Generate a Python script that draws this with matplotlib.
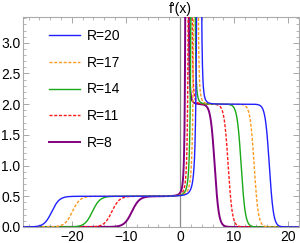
import numpy as np
import matplotlib
matplotlib.use("Agg")
import matplotlib.pyplot as plt
from matplotlib.ticker import MultipleLocator

plt.rcParams['font.family'] = ['Liberation Sans', 'DejaVu Sans']

# Curve parameters
labels = ["R=20", "R=17", "R=14", "R=11", "R=8"]
left_center = [-23.7, -19.9, -16.2, -12.6, -8.9]     # rise 0 -> 0.5
right_center = [16.5, 13.7, 11.3, 8.9, 6.4]          # drop 2 -> 0
pole = [3.6, 3.0, 2.45, 1.9, 1.3]                    # spike position
left_amp = [0.5, 0.38, 0.28, 0.19, 0.12]            # spike strength, left side
right_amp = [0.1, 0.085, 0.07, 0.06, 0.05]          # spike strength, right side
low_level = 0.5
high_level = 2.0
left_width = 0.7
right_width = 0.38

colors = ["#2020ff", "#ff9a20", "#18a818", "#ff1a1a", "#800080"]
styles = ["-", (0, (2.2, 1.2)), "-", (0, (2.2, 1.2)), "-"]
widths = [1.0, 1.0, 1.0, 1.0, 1.4]

fig = plt.figure(figsize=(3.0, 2.43), dpi=100)
ax = fig.add_axes([0.077, 0.066, 0.92, 0.864])

for i, lab in enumerate(labels):
    p = pole[i]
    xl = np.concatenate([np.linspace(-30, p - 0.5, 3000), p - np.geomspace(0.5, 0.01, 1500)])
    xr = np.concatenate([p + np.geomspace(0.01, 0.5, 1500), np.linspace(p + 0.5, 23, 3000)])
    yl = low_level / (1 + np.exp(-(xl - left_center[i]) / left_width)) + left_amp[i] / np.abs(xl - p) ** 3
    yr = high_level / (1 + np.exp((xr - right_center[i]) / right_width)) + right_amp[i] / np.abs(xr - p) ** 3
    x = np.concatenate([xl, xr])
    y = np.concatenate([np.minimum(yl, 10), np.minimum(yr, 10)])
    ax.plot(x, y, color=colors[i], linestyle=styles[i], linewidth=widths[i], label=lab, zorder=3 + (5 - i))

ax.axvline(0, color="#8c8c8c", linewidth=0.9, zorder=2)

ax.set_xlim(-29, 22)
ax.set_ylim(0, 3.42)
ax.xaxis.set_major_locator(MultipleLocator(10))
ax.xaxis.set_minor_locator(MultipleLocator(2))
ax.yaxis.set_major_locator(MultipleLocator(0.5))
ax.yaxis.set_minor_locator(MultipleLocator(0.1))
ax.yaxis.set_major_formatter(matplotlib.ticker.FormatStrFormatter('%.1f'))
ax.xaxis.set_major_formatter(matplotlib.ticker.FuncFormatter(lambda v, _: f"{int(v)}".replace('-', '\u2212')))
ax.tick_params(which='both', direction='in', top=True, right=True, labelsize=10,
               color="#999999", pad=2)
ax.tick_params(which='major', length=4, width=0.6)
ax.tick_params(which='minor', length=2, width=0.5)
for s in ax.spines.values():
    s.set_color("#aaaaaa")
    s.set_linewidth(0.8)

ax.text(0, 1.005, "f'(x)", transform=ax.get_xaxis_transform(), ha='center', va='bottom', fontsize=10)

leg = ax.legend(loc='upper left', bbox_to_anchor=(0.06, 0.99), frameon=False, fontsize=10,
                handlelength=2.2, handletextpad=0.5, labelspacing=0.92, borderaxespad=0.3)

fig.savefig("out.png", dpi=100)
